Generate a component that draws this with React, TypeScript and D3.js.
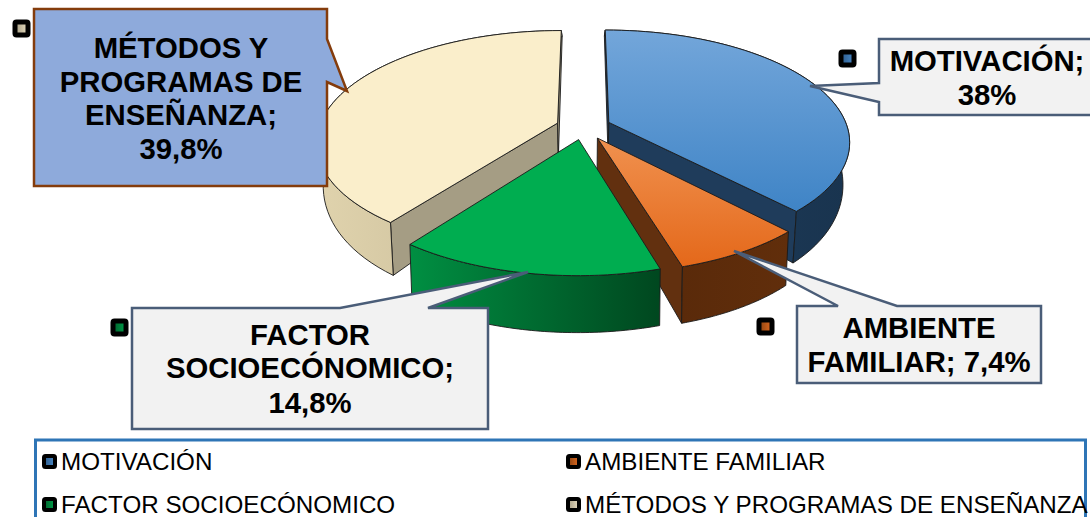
import React from "react";
import * as d3 from "d3";

const categories = ["MOTIVACIÓN", "AMBIENTE FAMILIAR", "FACTOR SOCIOECÓNOMICO", "MÉTODOS Y PROGRAMAS DE ENSEÑANZA"];
const values = [38, 7.4, 14.8, 39.8];
const topFills = ["url(#topBlue)", "url(#topOrange)", "#00ad50", "#faeecb"];
const rimFills = ["url(#rimBlue)", "url(#rimBrown)", "url(#rimGreen)", "url(#rimTan)"];
const wallFills = ["#1f3c5b", "#62300f", "#00803a", "#a59d84"];
const keyFills = ["url(#keyBlue)", "url(#keyOrange)", "url(#keyGreen)", "url(#keyTan)"];
const drawOrder = [3, 0, 1, 2];

const W = 1090, H = 517;
const EXPLODE = 0.115;
const TOP = { cx: 583.5, cy: 127, a: 238.5, b: 109, px: 0.165, py: 0.165 };
const BOTTOM = { cx: 583.5, cy: 163.5, a: 232, b: 135, px: 0.18, py: 0.1 };

type Plane = typeof TOP;
const project = (X: number, Z: number, pl: Plane): [number, number] => [
  pl.cx + (pl.a * X) / (1 - pl.px * Z),
  pl.cy + (pl.b * Z) / (1 - pl.py * Z),
];

const pieGen = d3.pie<number>().sort(null).startAngle(0).endAngle(2 * Math.PI);
const arcs = pieGen(values);
const line = d3.line();

const rimPoint = (ang: number, ox: number, oz: number, pl: Plane) =>
  project(ox + Math.sin(ang), oz - Math.cos(ang), pl);

const area = (pts: [number, number][]) => d3.polygonArea(pts);

function Slice({ i }: { i: number }) {
  const arc = arcs[i];
  const mid = (arc.startAngle + arc.endAngle) / 2;
  const ox = EXPLODE * Math.sin(mid);
  const oz = -EXPLODE * Math.cos(mid);
  const angs = d3.range(0, 61).map((k) => arc.startAngle + ((arc.endAngle - arc.startAngle) * k) / 60);
  const topRim = angs.map((t) => rimPoint(t, ox, oz, TOP));
  const botRim = angs.map((t) => rimPoint(t, ox, oz, BOTTOM));
  const apexT = project(ox, oz, TOP);
  const apexB = project(ox, oz, BOTTOM);
  const startWall: [number, number][] = [topRim[0], apexT, apexB, botRim[0]];
  const endWall: [number, number][] = [apexT, topRim[60], botRim[60], apexB];
  const face = (pts: [number, number][]) => line(pts) + "Z";
  const stroke = { stroke: "#1a1a1a", strokeWidth: 0.9, strokeLinejoin: "round" as const };
  const rimOrient = area([topRim[0], topRim[30], topRim[60]]);
  return (
    <g>
      {area(startWall) * rimOrient > 0 && <path d={face(startWall)} fill={wallFills[i]} {...stroke} />}
      {area(endWall) * rimOrient > 0 && <path d={face(endWall)} fill={wallFills[i]} {...stroke} />}
      <path d={face([...topRim, ...botRim.slice().reverse()])} fill={rimFills[i]} {...stroke} />
      <path d={face([apexT, ...topRim])} fill={topFills[i]} {...stroke} />
    </g>
  );
}

type Callout = {
  pts: [number, number][];
  fill: string;
  stroke: string;
  cx: number;
  lines: string[];
  base: number[];
  key: number;
  keyX: number;
  keyY: number;
};
const callouts: Callout[] = [
  {
    pts: [[34, 9], [327, 9], [327, 39], [347, 91], [327, 82], [327, 186], [34, 186]],
    fill: "#8eaadb", stroke: "#843c0c", cx: 181,
    lines: ["MÉTODOS Y", "PROGRAMAS DE", "ENSEÑANZA;", "39,8%"], base: [58, 92, 125, 159],
    key: 3, keyX: 15, keyY: 22,
  },
  {
    pts: [[879, 39], [1092, 39], [1092, 115], [879, 115], [879, 102], [810, 86], [879, 83]],
    fill: "#f2f2f2", stroke: "#4a5d78", cx: 987,
    lines: ["MOTIVACIÓN;", "38%"], base: [71, 105],
    key: 0, keyX: 841, keyY: 52,
  },
  {
    pts: [[797, 306], [838, 306], [734, 251], [897, 306], [1041, 306], [1041, 383], [797, 383]],
    fill: "#f2f2f2", stroke: "#4a5d78", cx: 919,
    lines: ["AMBIENTE", "FAMILIAR; 7,4%"], base: [338, 372],
    key: 1, keyX: 759, keyY: 320,
  },
  {
    pts: [[132, 308], [340, 308], [528, 272], [428, 308], [488, 308], [488, 429], [132, 429]],
    fill: "#f2f2f2", stroke: "#4a5d78", cx: 310,
    lines: ["FACTOR", "SOCIOECÓNOMICO;", "14,8%"], base: [345, 378, 413],
    key: 2, keyX: 113, keyY: 321,
  },
];

const legendItems = [
  { key: 0, x: 61, y: 470 },
  { key: 1, x: 585, y: 470 },
  { key: 2, x: 61, y: 513 },
  { key: 3, x: 585, y: 513 },
];

const grad = (id: string, stops: string[], horizontal = false) => (
  <linearGradient id={id} x1="0" y1="0" x2={horizontal ? 1 : 0} y2={horizontal ? 0 : 1}>
    {stops.map((c, k) => (
      <stop key={k} offset={k / (stops.length - 1)} stopColor={c} />
    ))}
  </linearGradient>
);

const KeyBox = ({ x, y, size, sw, fill }: { x: number; y: number; size: number; sw: number; fill: string }) => (
  <rect x={x} y={y} width={size} height={size} rx={1.5} fill={fill} stroke="#000" strokeWidth={sw} />
);

export default function App() {
  const font = "'Liberation Sans', Arial, sans-serif";
  return (
    <svg width={W} height={H} viewBox={`0 0 ${W} ${H}`} style={{ position: "absolute", left: 0, top: 0, background: "#fff" }} fontFamily={font}>
      <defs>
        {grad("topBlue", ["#73a6da", "#3f84c6"])}
        {grad("topOrange", ["#f0914f", "#e4681a"])}
        {grad("rimBlue", ["#1f3d5c", "#19344f"], true)}
        {grad("rimBrown", ["#5a2a0a", "#612e0b"], true)}
        {grad("rimGreen", ["#008f42", "#00471f"], true)}
        {grad("rimTan", ["#e0d3ad", "#c2b694"], true)}
        {grad("keyBlue", ["#2c5a8a", "#4a8ac8"], true)}
        {grad("keyOrange", ["#8a4210", "#e06a20"], true)}
        {grad("keyGreen", ["#00602c", "#00a04a"], true)}
        {grad("keyTan", ["#a59d84", "#e6dcc0"], true)}
      </defs>
      {drawOrder.map((i) => (
        <Slice key={i} i={i} />
      ))}
      {callouts.map((c, n) => (
        <g key={n}>
          <KeyBox x={c.keyX} y={c.keyY} size={13} sw={5} fill={keyFills[c.key]} />
          <path d={line(c.pts) + "Z"} fill={c.fill} stroke={c.stroke} strokeWidth={2.5} strokeLinejoin="miter" />
          {c.lines.map((t, k) => (
            <text key={k} x={c.cx} y={c.base[k]} textAnchor="middle" fontSize={29.3} fontWeight={700} fill="#000">
              {t}
            </text>
          ))}
        </g>
      ))}
      <rect x={35.5} y={440} width={1050} height={100} fill="#fff" stroke="#2e75b6" strokeWidth={3} />
      {legendItems.map((l) => (
        <g key={l.key}>
          <KeyBox x={l.x - 17} y={l.y - 14} size={11} sw={4} fill={keyFills[l.key]} />
          <text x={l.x} y={l.y} fontSize={24.2} fill="#000">
            {categories[l.key]}
          </text>
        </g>
      ))}
    </svg>
  );
}
